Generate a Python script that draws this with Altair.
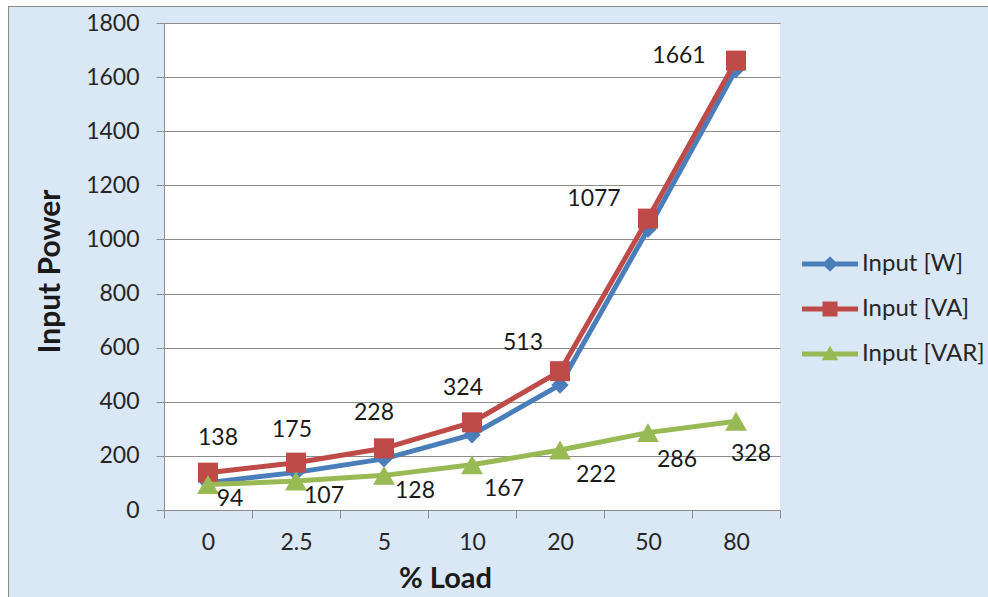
import altair as alt
import pandas as pd

# ---- data ----
loads = ["0", "2.5", "5", "10", "20", "50", "80"]
input_w = [101, 139, 189, 278, 462, 1038, 1628]
input_va = [138, 175, 228, 324, 513, 1077, 1661]
input_var = [94, 107, 128, 167, 222, 286, 328]
series_names = ["Input [W]", "Input [VA]", "Input [VAR]"]
y_ticks = [0, 200, 400, 600, 800, 1000, 1200, 1400, 1600, 1800]

# ---- styling ----
FONT = "Lato"
colors = ["#4a7ebb", "#be4b48", "#98b954"]
shapes = ["diamond", "square", "triangle-up"]
sizes = [300, 400, 480]
legend_paths = [
    "M-1.87,-0.16L1.87,-0.16L1.87,0.16L-1.87,0.16Z M0,-0.52L0.52,0L0,0.52L-0.52,0Z",
    "M-1.87,-0.16L1.87,-0.16L1.87,0.16L-1.87,0.16Z M-0.5,-0.5L0.5,-0.5L0.5,0.5L-0.5,0.5Z",
    "M-1.87,-0.16L1.87,-0.16L1.87,0.16L-1.87,0.16Z M0,-0.55L0.55,0.42L-0.55,0.42Z",
]
# manual nudges of the data labels (pixels), as placed in the original
va_nudge = {"0": (10, -35), "2.5": (-4, -33), "5": (-10, -35), "10": (-9, -34),
            "20": (-37, -28), "50": (-54, -20), "80": (-57, -5)}
var_nudge = {"0": (22, 14), "2.5": (28, 15), "5": (31, 16), "10": (32, 24),
             "20": (36, 25), "50": (29, 27), "80": (15, 33)}

rows = []
for name, vals in zip(series_names, [input_w, input_va, input_var]):
    for ld, v in zip(loads, vals):
        rows.append({"load": ld, "value": v, "series": name})
df = pd.DataFrame(rows)

base = alt.Chart(df)

x_enc = alt.X(
    "load:O", sort=loads,
    scale=alt.Scale(paddingInner=0, paddingOuter=0),
    axis=alt.Axis(
        title="% Load", labelAngle=0, grid=False, tickBand="extent",
        labelFont=FONT, labelFontSize=23, labelColor="#262626", labelPadding=13,
        tickSize=8, tickColor="#8c8c8c", domainColor="#8c8c8c",
        titleFont=FONT, titleFontSize=29, titleFontWeight="bold", titleColor="#1a1a1a",
        titleX=281, titleY=54, titleBaseline="top", titleAlign="center",
    ),
)
y_enc = alt.Y(
    "value:Q",
    scale=alt.Scale(domain=[0, 1800], nice=False),
    axis=alt.Axis(
        title="Input Power", values=y_ticks, format="d", grid=True, gridColor="#8c8c8c",
        labelFont=FONT, labelFontSize=23, labelColor="#262626", labelPadding=17,
        tickSize=8, tickColor="#8c8c8c", domainColor="#8c8c8c",
        titleFont=FONT, titleFontSize=30, titleFontWeight="bold", titleColor="#1a1a1a",
        titleX=-114, titleY=248, titleBaseline="middle", titleAlign="center",
    ),
)

layers = []
for name, col, shp, sz in zip(series_names, colors, shapes, sizes):
    sub = base.transform_filter(alt.datum.series == name)
    layers.append(sub.mark_line(strokeWidth=5, color=col).encode(x=x_enc, y=y_enc))
    layers.append(
        sub.mark_point(shape=shp, filled=True, size=sz, color=col, opacity=1)
        .encode(x=x_enc, y=y_enc)
    )

# data labels
for name, nudge in [("Input [VA]", va_nudge), ("Input [VAR]", var_nudge)]:
    for ld in loads:
        dx, dy = nudge[ld]
        layers.append(
            base.transform_filter((alt.datum.series == name) & (alt.datum.load == ld))
            .mark_text(font=FONT, fontSize=23, color="#1a1a1a", dx=dx, dy=dy,
                       align="center", baseline="middle")
            .encode(x=x_enc, y=y_enc, text="value:Q")
        )

# legend layer (no marks drawn; legend symbols are line + marker)
leg = alt.Legend(
    title=None, orient="none", legendX=651, legendY=226,
    labelFont=FONT, labelFontSize=24, labelColor="#262626", labelLimit=0,
    symbolSize=900, symbolStrokeWidth=0, symbolOpacity=1, rowPadding=18,
    labelOffset=17, padding=0,
)
layers.append(
    base.transform_filter("false").mark_point(filled=True, size=900).encode(
        x=x_enc, y=y_enc,
        color=alt.Color("series:N", sort=series_names,
                        scale=alt.Scale(domain=series_names, range=colors), legend=leg),
        shape=alt.Shape("series:N", sort=series_names,
                        scale=alt.Scale(domain=series_names, range=legend_paths), legend=leg),
    )
)

# frame decoration (white margin and grey border at the top-left)
deco_df = pd.DataFrame({"k": [0]})
deco = alt.Chart(deco_df)
layers.insert(0, deco.mark_rect(color="white").encode(
    x=alt.value(-164), x2=alt.value(-156), y=alt.value(-23), y2=alt.value(574)))
layers.insert(0, deco.mark_rect(color="white").encode(
    x=alt.value(-164), x2=alt.value(824), y=alt.value(-23), y2=alt.value(-17)))
layers.insert(0, deco.mark_rule(color="#8a8a8a", strokeWidth=2).encode(
    x=alt.value(-156), y=alt.value(-17), y2=alt.value(574)))
layers.insert(0, deco.mark_rule(color="#8a8a8a", strokeWidth=2).encode(
    x=alt.value(-156), x2=alt.value(824), y=alt.value(-17)))

chart = alt.layer(*layers).properties(
    width=616, height=487,
    autosize=alt.AutoSizeParams(type="none"),
    padding={"left": 164, "top": 23, "right": 208, "bottom": 87},
    background="#dae7f4",
).configure_view(fill="white", stroke=None)

chart.save("out.html", embed_options={"renderer": "svg", "actions": False})
